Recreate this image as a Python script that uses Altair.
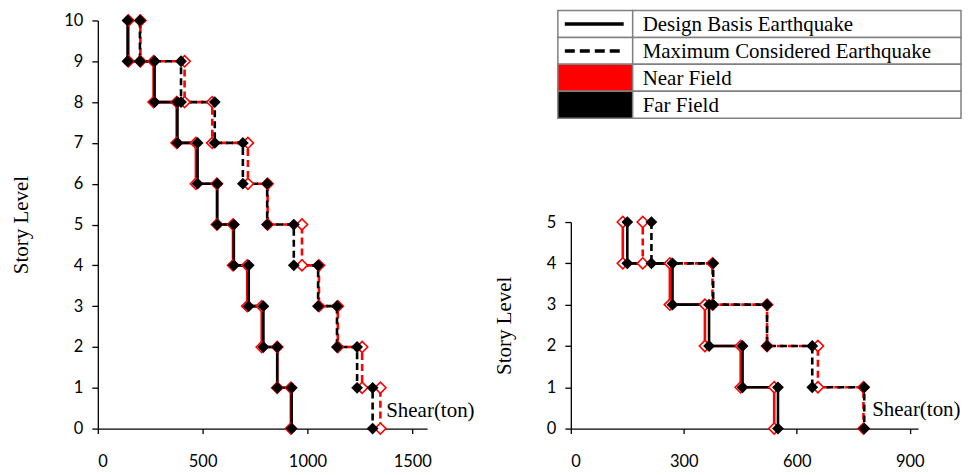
import altair as alt
import pandas as pd

# ---------------- data (story shear in ton, stories 1..n from bottom) ----------------
left_dbe_far = [925, 856, 790, 720, 649, 570, 476, 380, 271, 142]
left_dbe_near = [921, 856, 782, 713, 645, 568, 468, 376, 266, 146]
left_mce_far = [1311, 1237, 1141, 1051, 935, 808, 692, 558, 397, 201]
left_mce_near = [1348, 1261, 1145, 1055, 974, 810, 716, 546, 414, 203]

right_dbe_far = [550, 456, 367, 270, 150]
right_dbe_near = [540, 451, 356, 263, 138]
right_mce_far = [779, 641, 521, 378, 214]
right_mce_near = [777, 656, 521, 376, 191]

left_x_ticks = [0, 500, 1000, 1500]
right_x_ticks = [0, 300, 600, 900]
left_x_max = 1571
right_x_max = 922

legend_labels = ["Design Basis Earthquake", "Maximum Considered Earthquake",
                 "Near Field", "Far Field"]
axis_title_text = "Story Level"
shear_label = "Shear(ton)"

RED = "#ff0000"
SERIF = "Liberation Serif"
PANEL_H = 409


def steps(values, field, eq):
    rows = []
    n = len(values)
    k = 0
    for story in range(n, 0, -1):
        v = values[story - 1]
        for lvl in (story, story - 1):
            rows.append(dict(shear=v, level=lvl, order=k, field=field, eq=eq))
            k += 1
    return rows


def panel(dbe_far, dbe_near, mce_far, mce_near, x_max, x_ticks, w, y_range, shear_xy):
    n = len(dbe_far)
    rows = (steps(dbe_near, "Near", "DBE") + steps(mce_near, "Near", "MCE")
            + steps(dbe_far, "Far", "DBE") + steps(mce_far, "Far", "MCE"))
    df = pd.DataFrame(rows)
    x = alt.X("shear:Q", scale=alt.Scale(domain=[0, x_max], nice=False),
              axis=alt.Axis(values=x_ticks, title=None, grid=False, format="d"))
    y = alt.Y("level:Q", scale=alt.Scale(domain=[0, n], nice=False, range=y_range),
              axis=alt.Axis(values=list(range(n + 1)), title=axis_title_text, grid=False,
                            format="d"))
    base = alt.Chart(df)
    layers = []
    for fld, color, off in [("Near", RED, 5.5), ("Far", "black", 0)]:
        for eq in ["DBE", "MCE"]:
            kw = dict(color=color, strokeWidth=2.6)
            if eq == "MCE":
                kw.update(strokeDash=[7, 4], strokeDashOffset=off)
            layers.append(
                base.transform_filter(f"datum.field == '{fld}' && datum.eq == '{eq}'")
                .mark_line(**kw)
                .encode(x=x, y=y, order="order:Q")
            )
    layers.append(
        base.transform_filter("datum.field == 'Near'")
        .mark_point(shape="diamond", size=125, filled=True, fill="white",
                    stroke=RED, strokeWidth=1.6, opacity=1)
        .encode(x=x, y=y)
    )
    layers.append(
        base.transform_filter("datum.field == 'Far'")
        .mark_point(shape="diamond", size=140, filled=True, color="black", opacity=1)
        .encode(x=x, y=y)
    )
    one = pd.DataFrame({"t": [0]})
    layers.append(
        alt.Chart(one).mark_text(text=shear_label, align="left", baseline="middle",
                                 font=SERIF, fontSize=21, color="black")
        .encode(x=alt.value(shear_xy[0]), y=alt.value(shear_xy[1]))
    )
    return layers


left_layers = panel(left_dbe_far, left_dbe_near, left_mce_far, left_mce_near,
                    left_x_max, left_x_ticks, 330, [PANEL_H, 0], (289, 391))
right_layers = panel(right_dbe_far, right_dbe_near, right_mce_far, right_mce_near,
                     right_x_max, right_x_ticks, 348, [PANEL_H, 202], (302, 390))

# ---------------- legend table (drawn above right panel) ----------------
one = pd.DataFrame({"t": [0]})
lx0, lxm, lx1 = -13, 62, 391
ltop, lrow = -10, 27
sym_fill = ["white", "white", RED, "black"]
grid_color = "#808080"
for i, lab in enumerate(legend_labels):
    top = ltop + lrow * i
    bot = top + lrow
    mid = top + lrow / 2
    right_layers.append(
        alt.Chart(one).mark_rect(fill=sym_fill[i], stroke=grid_color, strokeWidth=1.5)
        .encode(x=alt.value(lx0), x2=alt.value(lxm), y=alt.value(top), y2=alt.value(bot))
    )
    right_layers.append(
        alt.Chart(one).mark_rect(fill="white", stroke=grid_color, strokeWidth=1.5)
        .encode(x=alt.value(lxm), x2=alt.value(lx1), y=alt.value(top), y2=alt.value(bot))
    )
    right_layers.append(
        alt.Chart(one).mark_text(text=lab, align="left", baseline="middle",
                                 font=SERIF, fontSize=21, color="black")
        .encode(x=alt.value(lxm + 10), y=alt.value(mid + 1))
    )
    if i < 2:
        kw = dict(color="black", strokeWidth=3.5)
        if i == 1:
            kw.update(strokeDash=[10, 5])
        right_layers.append(
            alt.Chart(one).mark_rule(**kw)
            .encode(x=alt.value(lx0 + 7), x2=alt.value(lxm - 9), y=alt.value(mid))
        )

left = alt.layer(*left_layers).properties(width=330, height=PANEL_H)
right = alt.layer(*right_layers).properties(width=348, height=PANEL_H)

chart = (
    alt.hconcat(left, right, spacing=18)
    .properties(padding={"left": 2, "top": 1, "right": 0, "bottom": 0}, background="white")
    .configure_view(stroke=None)
    .configure_axis(
        domainColor="black", domainWidth=1.3, tickColor="black", tickWidth=1.3,
        labelFont="Lato", labelFontSize=16.5, labelColor="black",
        titleFont=SERIF, titleFontSize=21, titleFontWeight="normal", titleColor="black",
    )
    .configure_axisX(tickSize=5, labelPadding=20)
    .configure_axisY(tickSize=6, labelPadding=9, titlePadding=32)
)

chart.save("out.html", embed_options={"renderer": "svg", "actions": False})
